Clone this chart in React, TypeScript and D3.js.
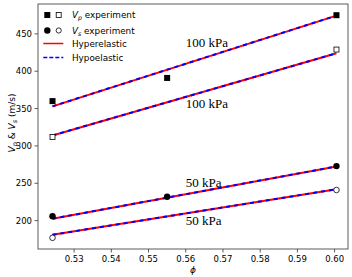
import React from "react";
import * as d3 from "d3";

const phi = [0.5242, 0.555, 0.6005];
const vpFilled = [360, 391, 475];
const vpOpenPhi = [0.5242, 0.6005];
const vpOpen = [312, 429];
const vsFilled = [206, 232, 273];
const vsOpenPhi = [0.5242, 0.6005];
const vsOpen = [177, 241];

const modelPhi = [0.5242, 0.6005];
const modelLines = [
  [353, 474.5],
  [314, 424],
  [202.5, 272.5],
  [181, 242],
];

const annotations = [
  { text: "100 kPa", x: 0.56, y: 432 },
  { text: "100 kPa", x: 0.56, y: 351 },
  { text: "50 kPa", x: 0.56, y: 245 },
  { text: "50 kPa", x: 0.56, y: 194 },
];

const xTicks = [0.53, 0.54, 0.55, 0.56, 0.57, 0.58, 0.59, 0.6];
const yTicks = [200, 250, 300, 350, 400, 450];

const W = 352;
const H = 277;
const L = 38, R = 348, T = 4, B = 249;

export default function App() {
  const x = d3.scaleLinear().domain([0.5203, 0.6036]).range([L, R]);
  const y = d3.scaleLinear().domain([162, 490]).range([B, T]);
  const line = d3.line<[number, number]>().x((d) => x(d[0])).y((d) => y(d[1]));
  const font = "DejaVu Sans, sans-serif";
  const sq = 6;
  return (
    <svg width={W} height={H} style={{ position: "absolute", left: 0, top: 0, background: "#fff" }}>
      <rect x={0} y={0} width={W} height={H} fill="#fff" />
      {/* model lines */}
      {modelLines.map((ln, i) => {
        const pts = modelPhi.map((p, j) => [p, ln[j]] as [number, number]);
        return (
          <g key={i}>
            <path d={line(pts) || ""} stroke="#ff0000" strokeWidth={2} fill="none" />
            <path d={line(pts) || ""} stroke="#0000ff" strokeWidth={2} fill="none" strokeDasharray="4,4" />
          </g>
        );
      })}
      {/* markers */}
      {phi.map((p, i) => (
        <rect key={"vpf" + i} x={x(p) - sq / 2} y={y(vpFilled[i]) - sq / 2} width={sq} height={sq} fill="#000" />
      ))}
      {vpOpenPhi.map((p, i) => (
        <rect key={"vpo" + i} x={x(p) - sq / 2 + 0.5} y={y(vpOpen[i]) - sq / 2 + 0.5} width={sq - 1} height={sq - 1} fill="#fff" stroke="#000" strokeWidth={0.8} />
      ))}
      {phi.map((p, i) => (
        <circle key={"vsf" + i} cx={x(p)} cy={y(vsFilled[i])} r={3.2} fill="#000" />
      ))}
      {vsOpenPhi.map((p, i) => (
        <circle key={"vso" + i} cx={x(p)} cy={y(vsOpen[i])} r={2.8} fill="#fff" stroke="#000" strokeWidth={0.8} />
      ))}
      {/* annotations */}
      {annotations.map((a, i) => (
        <text key={"a" + i} x={x(a.x)} y={y(a.y)} fontFamily="Liberation Serif, serif" fontSize={13} fill="#000">
          {a.text}
        </text>
      ))}
      {/* frame */}
      <rect x={L} y={T} width={R - L} height={B - T} fill="none" stroke="#333" strokeWidth={0.8} />
      {/* x ticks */}
      {xTicks.map((t) => (
        <g key={"xt" + t}>
          <line x1={x(t)} x2={x(t)} y1={B} y2={B + 3.5} stroke="#333" strokeWidth={0.8} />
          <text x={x(t)} y={B + 13} textAnchor="middle" fontFamily={font} fontSize={8.5} fill="#000">
            {t.toFixed(2)}
          </text>
        </g>
      ))}
      {yTicks.map((t) => (
        <g key={"yt" + t}>
          <line x1={L - 3.5} x2={L} y1={y(t)} y2={y(t)} stroke="#333" strokeWidth={0.8} />
          <text x={L - 6} y={y(t) + 3} textAnchor="end" fontFamily={font} fontSize={8.5} fill="#000">
            {t}
          </text>
        </g>
      ))}
      {/* axis labels */}
      <text x={193} y={273} textAnchor="middle" fontFamily={font} fontSize={9} fontStyle="italic" fill="#000">ϕ</text>
      <text transform={`translate(15, 123) rotate(-90)`} textAnchor="middle" fontFamily={font} fontSize={9} fill="#000">
        <tspan fontStyle="italic">V</tspan>
        <tspan fontSize={6.5} dy={2} fontStyle="italic">p</tspan>
        <tspan dy={-2}> &amp; </tspan>
        <tspan fontStyle="italic">V</tspan>
        <tspan fontSize={6.5} dy={2} fontStyle="italic">s</tspan>
        <tspan dy={-2}> (m/s)</tspan>
      </text>
      {/* legend */}
      <g fontFamily={font} fontSize={8.8} fill="#000">
        <rect x={47.3 - 3} y={15 - 3} width={6} height={6} fill="#000" />
        <rect x={58.7 - 2.5} y={15 - 2.5} width={5} height={5} fill="#fff" stroke="#000" strokeWidth={0.8} />
        <text x={72} y={18.2}>
          <tspan fontStyle="italic">V</tspan>
          <tspan fontSize={6.3} dy={2} fontStyle="italic">p</tspan>
          <tspan dy={-2}> experiment</tspan>
        </text>
        <circle cx={47.3} cy={30.5} r={3.2} fill="#000" />
        <circle cx={58.7} cy={30.5} r={2.6} fill="#fff" stroke="#000" strokeWidth={0.8} />
        <text x={72} y={33.7}>
          <tspan fontStyle="italic">V</tspan>
          <tspan fontSize={6.3} dy={2} fontStyle="italic">s</tspan>
          <tspan dy={-2}> experiment</tspan>
        </text>
        <line x1={43.3} x2={63.3} y1={43.5} y2={43.5} stroke="#ff0000" strokeWidth={1.5} />
        <text x={72} y={46.7}>Hyperelastic</text>
        <line x1={43.3} x2={63.3} y1={57.5} y2={57.5} stroke="#0000ff" strokeWidth={1.5} strokeDasharray="4,2" />
        <text x={72} y={60.7}>Hypoelastic</text>
      </g>
    </svg>
  );
}
